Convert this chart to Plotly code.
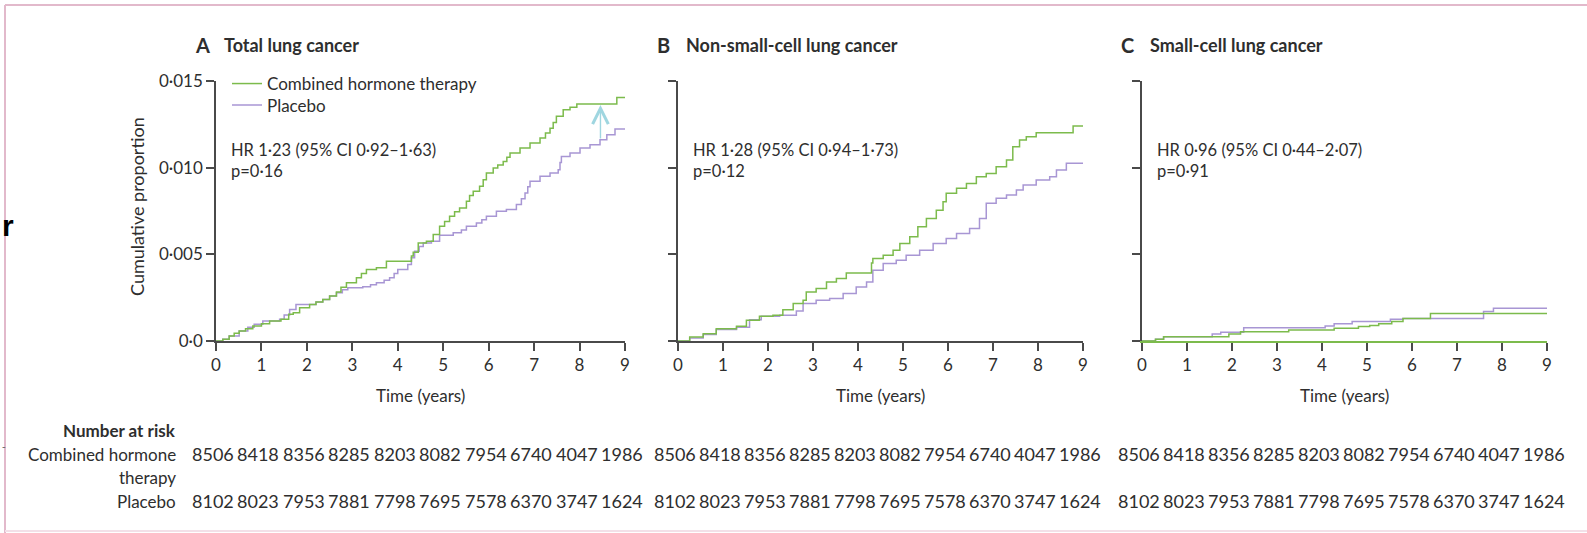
import plotly.graph_objects as go

# ---------------- data ----------------
years = [0, 1, 2, 3, 4, 5, 6, 7, 8, 9]

# Panel A: total lung cancer (cumulative proportion, step points)
a_cht_t = [0, 0.15, 0.29, 0.4, 0.51, 0.65, 0.81, 1.0, 1.18, 1.43, 1.6, 1.7, 1.84, 2.06, 2.2, 2.35, 2.5, 2.65, 2.75,
           2.87, 3.09, 3.2, 3.31, 3.53, 3.75, 4.3, 4.34, 4.45, 4.63, 4.78, 4.92, 5.03, 5.14, 5.25, 5.36, 5.51, 5.58,
           5.66, 5.8, 5.88, 5.95, 6.1, 6.2, 6.32, 6.4, 6.47, 6.69, 6.91, 7.13, 7.25, 7.35, 7.42, 7.49, 7.64, 7.79,
           7.94, 8.82, 9.0]
a_cht_v = [0, 0.0001, 0.00029, 0.00045, 0.00058, 0.0007, 0.00086, 0.001, 0.00115, 0.00125, 0.00155, 0.00163,
           0.00192, 0.00211, 0.00225, 0.0024, 0.0026, 0.00282, 0.0031, 0.00336, 0.00365, 0.0039, 0.00413, 0.00422,
           0.0046, 0.0049, 0.00512, 0.00566, 0.00576, 0.00614, 0.00662, 0.0069, 0.0072, 0.00745, 0.00768, 0.00806,
           0.0084, 0.00864, 0.00893, 0.0093, 0.00969, 0.00998, 0.01015, 0.01036, 0.0106, 0.01084, 0.01113, 0.01142,
           0.01171, 0.012, 0.01228, 0.0126, 0.01296, 0.01334, 0.01349, 0.01367, 0.01405, 0.01405]
a_pla_t = [0, 0.15, 0.29, 0.51, 0.7, 0.84, 1.03, 1.4, 1.5, 1.62, 1.76, 2.2, 2.35, 2.5, 2.65, 2.78, 2.9, 3.23, 3.4,
           3.53, 3.7, 3.82, 3.92, 4.0, 4.22, 4.3, 4.37, 4.47, 4.56, 4.74, 4.92, 5.22, 5.4, 5.51, 5.73, 5.85, 5.95,
           6.17, 6.39, 6.61, 6.72, 6.8, 6.86, 6.91, 7.13, 7.35, 7.53, 7.57, 7.6, 7.79, 8.01, 8.23, 8.45, 8.6, 8.78,
           9.0]
a_pla_v = [0, 0.0001, 0.00029, 0.00058, 0.0008, 0.00096, 0.00115, 0.00125, 0.0015, 0.00182, 0.00211, 0.00225,
           0.0024, 0.0026, 0.00278, 0.00295, 0.00307, 0.00313, 0.00325, 0.00336, 0.0035, 0.00365, 0.0039, 0.00413,
           0.00441, 0.0048, 0.00518, 0.00545, 0.00566, 0.00576, 0.0061, 0.00624, 0.0064, 0.00662, 0.00681, 0.007,
           0.0072, 0.00749, 0.00758, 0.00787, 0.0082, 0.00854, 0.0089, 0.00921, 0.0095, 0.00969, 0.00988, 0.0103,
           0.01065, 0.01084, 0.01113, 0.01132, 0.01161, 0.0119, 0.01223, 0.01223]

# Panel B: non-small-cell lung cancer
b_cht_t = [0, 0.26, 0.56, 0.85, 1.3, 1.52, 1.81, 2.11, 2.33, 2.56, 2.78, 2.85, 3.07, 3.3, 3.52, 3.74, 4.3, 4.33,
           4.56, 4.78, 4.93, 5.15, 5.33, 5.52, 5.74, 5.89, 5.96, 6.19, 6.41, 6.63, 6.85, 7.07, 7.3, 7.44, 7.59, 7.74,
           7.96, 8.78, 9.0]
b_cht_v = [0, 0.00023, 0.00042, 0.00071, 0.00085, 0.00119, 0.00143, 0.00148, 0.00181, 0.00216, 0.00235, 0.00283,
           0.00303, 0.00341, 0.0036, 0.00393, 0.0045, 0.00476, 0.00495, 0.00524, 0.00563, 0.00601, 0.00659, 0.00707,
           0.00755, 0.00803, 0.00852, 0.00881, 0.00909, 0.00948, 0.00967, 0.01006, 0.01044, 0.01121, 0.0116,
           0.01179, 0.01202, 0.01241, 0.01241]
b_pla_t = [0, 0.26, 0.56, 0.85, 1.3, 1.59, 1.85, 2.26, 2.63, 2.78, 3.07, 3.37, 3.67, 3.96, 4.19, 4.33, 4.56, 4.85,
           5.07, 5.37, 5.67, 5.96, 6.19, 6.48, 6.7, 6.85, 7.07, 7.3, 7.52, 7.67, 7.96, 8.26, 8.41, 8.63, 9.0]
b_pla_v = [0, 0.00017, 0.00038, 0.00066, 0.0008, 0.00123, 0.00143, 0.00148, 0.00173, 0.00216, 0.00235, 0.00245,
           0.00274, 0.00312, 0.00341, 0.00408, 0.00447, 0.00466, 0.00495, 0.00524, 0.00563, 0.00592, 0.0062,
           0.00649, 0.00707, 0.00794, 0.00823, 0.00842, 0.00871, 0.009, 0.00929, 0.00948, 0.00987, 0.01025, 0.01025]

# Panel C: small-cell lung cancer
c_cht_t = [0, 0.3, 0.48, 1.93, 2.19, 3.26, 4.27, 4.81, 5.06, 5.26, 5.55, 5.8, 6.41, 9.0]
c_cht_v = [0, 0.0001, 0.00025, 0.0004, 0.00054, 0.00064, 0.00073, 0.00083, 0.0009, 0.001, 0.00113, 0.0013,
           0.00158, 0.00158]
c_pla_t = [0, 0.3, 0.48, 1.56, 1.75, 2.26, 4.07, 4.27, 4.67, 5.52, 5.8, 7.59, 7.81, 9.0]
c_pla_v = [0, 0.0001, 0.00025, 0.0004, 0.0005, 0.00077, 0.00087, 0.001, 0.00113, 0.00125, 0.0013, 0.0017,
           0.00189, 0.00189]

y_tickvals = [0, 0.005, 0.010, 0.015]
y_ticktext = ["0·0", "0·005", "0·010", "0·015"]

panel_letters = ["A", "B", "C"]
panel_titles = ["Total lung cancer", "Non-small-cell lung cancer", "Small-cell lung cancer"]
hr_texts = ["HR 1·23 (95% CI 0·92–1·63)<br>p=0·16",
            "HR 1·28 (95% CI 0·94–1·73)<br>p=0·12",
            "HR 0·96 (95% CI 0·44–2·07)<br>p=0·91"]

risk_cht = [8506, 8418, 8356, 8285, 8203, 8082, 7954, 6740, 4047, 1986]
risk_pla = [8102, 8023, 7953, 7881, 7798, 7695, 7578, 6370, 3747, 1624]

# ---------------- style ----------------
W, H = 1587, 533
GREEN = "#7cbb4c"
PURPLE = "#a896d4"
AXIS = "#4a4a4a"
TEXT = "#2e2e2e"
FONT = "Lato, 'Open Sans', sans-serif"


def px(x):
    return x / W


def py(y):
    return 1 - y / H


panel_px = [(216, 625), (678, 1083), (1142, 1547)]
y_dom = [py(341), py(81)]

fig = go.Figure()

series = [(a_cht_t, a_cht_v, a_pla_t, a_pla_v),
          (b_cht_t, b_cht_v, b_pla_t, b_pla_v),
          (c_cht_t, c_cht_v, c_pla_t, c_pla_v)]

for i, (ct, cv, pt, pv) in enumerate(series):
    sfx = "" if i == 0 else str(i + 1)
    fig.add_trace(go.Scatter(x=pt, y=pv, mode="lines", line=dict(color=PURPLE, width=1.5, shape="hv"),
                             name="Placebo", legend="legend2", showlegend=(i == 0),
                             xaxis="x" + sfx, yaxis="y" + sfx))
    fig.add_trace(go.Scatter(x=ct, y=cv, mode="lines", line=dict(color=GREEN, width=1.5, shape="hv"),
                             name="Combined hormone therapy", legend="legend", showlegend=(i == 0),
                             xaxis="x" + sfx, yaxis="y" + sfx))

legend_style = dict(xanchor="left", yanchor="top", bgcolor="rgba(0,0,0,0)",
                    font=dict(size=17, color=TEXT), tracegroupgap=0, itemwidth=30)

layout = dict(
    width=W, height=H, autosize=False,
    margin=dict(l=0, r=0, t=0, b=0, pad=0, autoexpand=False),
    paper_bgcolor="white", plot_bgcolor="white",
    font=dict(family=FONT, size=17, color=TEXT),
    showlegend=True,
    legend=dict(x=px(227), y=py(66), **legend_style),
    legend2=dict(x=px(227), y=py(87.5), **legend_style),
)

annotations = []
shapes = []
for i in range(3):
    sfx = "" if i == 0 else str(i + 1)
    x0, x1 = panel_px[i]
    layout["xaxis" + sfx] = dict(
        domain=[px(x0), px(x1)], range=[0, 9], anchor="y" + sfx, automargin=False,
        showline=True, linecolor=(GREEN if i == 2 else AXIS), linewidth=1.5,
        ticks="outside", ticklen=8, tickwidth=1.5, tickcolor=AXIS,
        tickvals=years, ticktext=[str(v) for v in years],
        tickfont=dict(size=17, color=TEXT), showgrid=False, zeroline=False, fixedrange=True,
    )
    layout["yaxis" + sfx] = dict(
        domain=y_dom, range=[0, 0.015], anchor="x" + sfx, automargin=False,
        showline=True, linecolor=AXIS, linewidth=1.5,
        ticks="outside", ticklen=8, tickwidth=1.5, tickcolor=AXIS,
        tickvals=y_tickvals, ticktext=(y_ticktext if i == 0 else [""] * 4),
        tickfont=dict(size=17, color=TEXT), showgrid=False, zeroline=False, fixedrange=True,
    )
    # panel title
    annotations.append(dict(xref="paper", yref="paper", x=px(x0 - 23), y=py(45), xanchor="left",
                            yanchor="middle", showarrow=False,
                            text="<b>" + panel_letters[i] + "</b>", font=dict(size=20, color=TEXT)))
    annotations.append(dict(xref="paper", yref="paper", x=px(x0 + 6), y=py(45), xanchor="left",
                            yanchor="middle", showarrow=False,
                            text="<b>" + panel_titles[i] + "</b>", font=dict(size=18, color=TEXT)))
    # HR text
    annotations.append(dict(xref="paper", yref="paper", x=px(x0 + 13), y=py(160), xanchor="left",
                            yanchor="middle", showarrow=False, align="left",
                            text=hr_texts[i], font=dict(size=16.5, color=TEXT)))
    # x-axis title
    annotations.append(dict(xref="paper", yref="paper", x=px((x0 + x1) / 2), y=py(395),
                            xanchor="center", yanchor="middle", showarrow=False,
                            text="Time (years)", font=dict(size=17, color=TEXT)))
    # number at risk rows
    for k, yr in enumerate(years):
        annotations.append(dict(xref="x" + sfx, yref="paper", x=yr, y=py(454), xanchor="center",
                                yanchor="middle", showarrow=False, xshift=-3,
                                text=str(risk_cht[k]), font=dict(size=18, color=TEXT)))
        annotations.append(dict(xref="x" + sfx, yref="paper", x=yr, y=py(501), xanchor="center",
                                yanchor="middle", showarrow=False, xshift=-3,
                                text=str(risk_pla[k]), font=dict(size=18, color=TEXT)))

# y-axis title
annotations.append(dict(xref="paper", yref="paper", x=px(137), y=py(207), xanchor="center",
                        yanchor="middle", showarrow=False, textangle=-90,
                        text="Cumulative proportion", font=dict(size=18, color=TEXT)))
# number at risk labels
for txt, yy, bold in [("Number at risk", 430, True), ("Combined hormone", 454, False),
                      ("therapy", 477, False), ("Placebo", 501, False)]:
    annotations.append(dict(xref="paper", yref="paper", x=px(178), y=py(yy), xanchor="right",
                            yanchor="middle", showarrow=False,
                            text=("<b>" + txt + "</b>" if bold else txt), font=dict(size=17, color=TEXT)))

# cyan arrow in panel A
annotations.append(dict(xref="x", yref="y", axref="x", ayref="y", x=8.46, y=0.01362, ax=8.46, ay=0.01160,
                        showarrow=True, arrowhead=5, arrowsize=2.2, arrowwidth=1.4, arrowcolor="#9fd6e0",
                        text=""))

# stray glyphs at the left edge
annotations.append(dict(xref="paper", yref="paper", x=0, y=py(225), xanchor="left", yanchor="middle",
                        showarrow=False, text="<b>r</b>",
                        font=dict(family="Liberation Sans, Arial, sans-serif", size=30, color="black")))
annotations.append(dict(xref="paper", yref="paper", x=0, y=py(446), xanchor="left", yanchor="middle",
                        showarrow=False, text="-",
                        font=dict(family="Liberation Sans, Arial, sans-serif", size=11, color="#666")))

# pink frame
shapes.append(dict(type="line", xref="paper", yref="paper", x0=px(5), x1=1, y0=py(5), y1=py(5),
                   line=dict(color="#e2b9cb", width=2)))
shapes.append(dict(type="line", xref="paper", yref="paper", x0=px(5), x1=px(5), y0=0, y1=py(5),
                   line=dict(color="#e2b9cb", width=2)))
shapes.append(dict(type="line", xref="paper", yref="paper", x0=px(5), x1=1, y0=py(531), y1=py(531),
                   line=dict(color="#f3e0e8", width=2)))

layout["annotations"] = annotations
layout["shapes"] = shapes
fig.update_layout(**layout)

fig.write_html("out.html", config={"displayModeBar": False},
               post_script="document.body.style.margin='0';document.body.style.overflow='hidden';")
